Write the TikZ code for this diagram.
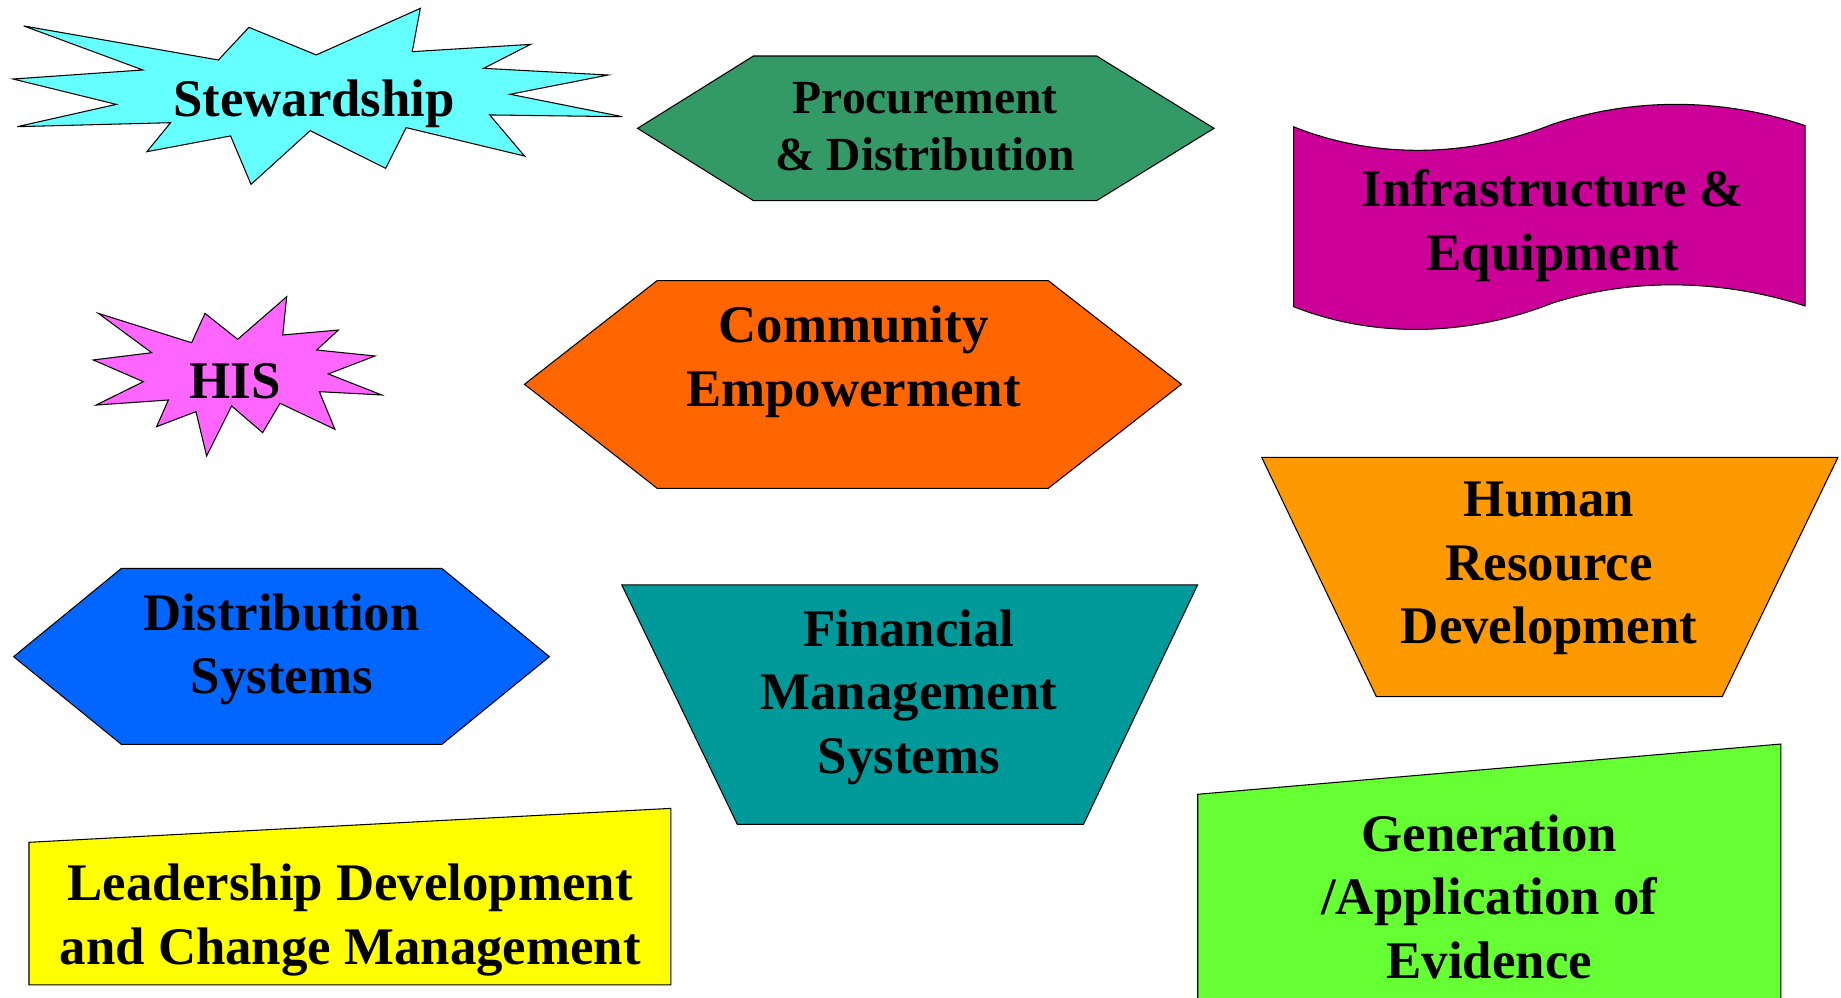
\documentclass[tikz,border=0pt]{standalone}
\usepackage{fontspec}
\setmainfont{Liberation Serif}
\newcommand\lstr{\rule[-12pt]{0pt}{45pt}}
\newcommand\sstr{\rule[-11pt]{0pt}{41pt}}
\definecolor{cStew}{HTML}{66FFFF}
\definecolor{cProc}{HTML}{339966}
\definecolor{cInfra}{HTML}{CC0099}
\definecolor{cHIS}{HTML}{FF66FF}
\definecolor{cComm}{HTML}{FF6600}
\definecolor{cHR}{HTML}{FF9900}
\definecolor{cDist}{HTML}{0066FF}
\definecolor{cFin}{HTML}{009999}
\definecolor{cLead}{HTML}{FFFF00}
\definecolor{cGen}{HTML}{66FF33}
\begin{document}
\begin{tikzpicture}[x=1pt,y=-1pt,
  shp/.style={draw=black,line width=0.9pt,line join=miter},
  lbl/.style={inner sep=0pt,outer sep=0pt,align=center,text=black,
    font=\bfseries\fontsize{45pt}{54pt}\selectfont},
  lbls/.style={inner sep=0pt,outer sep=0pt,align=center,text=black,
    font=\bfseries\fontsize{40.5pt}{48.3pt}\selectfont}]
\useasboundingbox (0,0) rectangle (1568,850);

% Stewardship star
\draw[shp,fill=cStew] (20.2,22.1) -- (186.0,51.1) -- (212.0,23.3) -- (269.4,46.8)
  -- (358.0,7.1) -- (351.1,44.0) -- (451.9,37.8) -- (411.9,58.2) -- (517.9,63.9)
  -- (434.5,80.3) -- (530.1,99.4) -- (417.1,97.9) -- (446.7,132.9) -- (345.9,108.7)
  -- (328.5,143.4) -- (264.2,111.3) -- (213.8,157.0) -- (196.4,115.8) -- (125.1,129.2)
  -- (145.3,104.5) -- (14.6,107.9) -- (99.1,88.9) -- (11.1,67.3) -- (121.7,59.6) -- cycle;
\node[lbl,anchor=base] (stew) at (267.5,99.4) {Stewardship};

% Procurement hexagon
\draw[shp,fill=cProc] (543.0,109.3) -- (641.7,47.7) -- (934.0,47.7) -- (1034.0,109.3)
  -- (934.0,170.9) -- (641.7,170.9) -- cycle;
\node[lbls] (proc) at (788,111.7) {\sstr Procurement\\\sstr\& Distribution};

% Infrastructure wave
\draw[shp,fill=cInfra] (1101.8,108) .. controls (1171.8,136) and (1251.8,134) .. (1321.8,106)
  .. controls (1391.8,82.5) and (1467.5,83.5) .. (1537.5,107)
  -- (1537.5,260.6) .. controls (1467.5,238.2) and (1391.8,235.9) .. (1321.8,258.3)
  .. controls (1251.8,286) and (1171.8,288.9) .. (1101.8,261.2) -- cycle;
\node[lbl] (infra) at (1322.5,192.8) {\lstr Infrastructure \&\\\lstr Equipment};

% HIS star
\draw[shp,fill=cHIS] (83.8,266.9) -- (163.2,291.9) -- (174.6,266.9) -- (202.4,289.0)
  -- (244.2,252.7) -- (240.8,285.3) -- (288.2,281.1) -- (269.7,298.1) -- (319.4,303.2)
  -- (279.6,318.5) -- (325.1,336.4) -- (272.0,333.6) -- (285.3,365.7) -- (238.5,343.5)
  -- (223.7,368.5) -- (197.3,345.8) -- (176.0,388.4) -- (166.9,350.6) -- (133.4,363.4)
  -- (143.4,340.7) -- (81.8,345.0) -- (122.1,325.1) -- (79.5,306.6) -- (129.2,300.4) -- cycle;
\node[lbl,anchor=base] (his) at (200.2,339.8) {HIS};

% Community hexagon
\draw[shp,fill=cComm] (446.7,327.3) -- (559.7,239.0) -- (892.8,239.0) -- (1006.2,327.3)
  -- (892.8,415.9) -- (559.7,415.9) -- cycle;
\node[lbl] (comm) at (727,308.4) {\lstr Community\\\lstr Empowerment};

% Human Resource trapezoid
\draw[shp,fill=cHR] (1074.6,389.5) -- (1565.4,389.5) -- (1466.8,593.4) -- (1172.3,593.4) -- cycle;
\node[lbl] (hr) at (1319.4,483.5) {\lstr Human\\\lstr Resource\\\lstr Development};

% Distribution hexagon
\draw[shp,fill=cDist] (11.6,559.3) -- (103.4,484.1) -- (376.3,484.1) -- (467.9,559.3)
  -- (376.3,634.0) -- (103.4,634.0) -- cycle;
\node[lbl] (dist) at (240,553.1) {\lstr Distribution\\\lstr Systems};

% Financial trapezoid
\draw[shp,fill=cFin] (529.6,498.2) -- (1020.0,498.2) -- (922.8,702.1) -- (628.0,702.1) -- cycle;
\node[lbl] (fin) at (774,594.2) {\lstr Financial\\\lstr Management\\\lstr Systems};

% Leadership box
\draw[shp,fill=cLead] (24.7,717.4) -- (571.4,688.5) -- (571.4,838.9) -- (24.7,838.9) -- cycle;
\node[lbl] (lead) at (298.3,783.6) {\lstr Leadership Development\\\lstr and Change Management};

% Generation box
\draw[shp,fill=cGen] (1020.1,676.5) -- (1516.7,633.7) -- (1516.7,870) -- (1020.1,870) -- cycle;
\node[lbl] (gen) at (1268.5,768.8) {\lstr Generation\\\lstr /Application of\\\lstr Evidence};
\end{tikzpicture}
\end{document}
